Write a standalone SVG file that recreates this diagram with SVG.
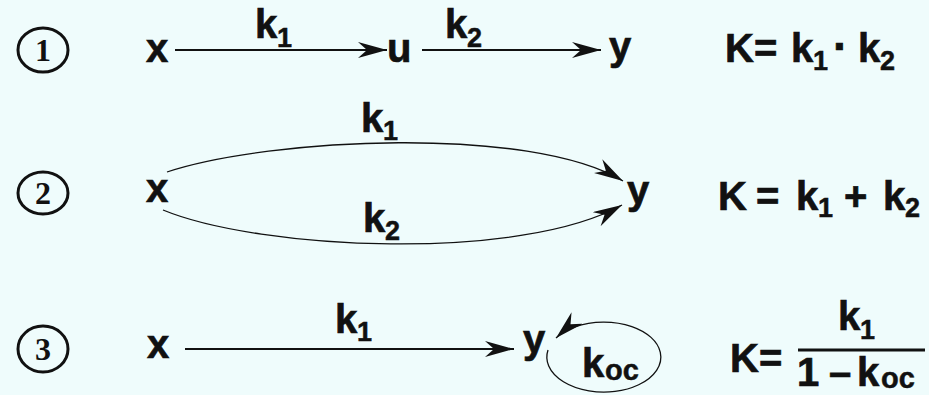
<svg xmlns="http://www.w3.org/2000/svg" width="929" height="395" viewBox="0 0 929 395">
<style>
.t{font-family:"Liberation Sans",Arial,sans-serif;font-weight:bold;font-size:40px;fill:#111;stroke:#111;stroke-width:0.7}
.s{font-family:"Liberation Sans",Arial,sans-serif;font-weight:bold;font-size:27px;fill:#111;stroke:#111;stroke-width:0.5}
.n{font-family:"Liberation Serif","Times New Roman",serif;font-weight:bold;font-size:32px;fill:#111;text-anchor:middle}
.ring{fill:none;stroke:#111;stroke-width:3}
.ln{fill:none;stroke:#111;stroke-width:1.8}
.cv{fill:none;stroke:#111;stroke-width:1.3}
</style>
<defs>
<marker id="ah" markerUnits="userSpaceOnUse" markerWidth="32" markerHeight="18" refX="29" refY="8" orient="auto" viewBox="0 0 32 18">
<path d="M0,0 L29,8 L0,16 L9,8 Z" fill="#111"/>
</marker>
</defs>
<rect width="929" height="395" fill="#effcfc"/>

<g id="num1"><ellipse class="ring" cx="43" cy="50" rx="25" ry="22"/><text class="n" x="43" y="61">1</text></g>
<g id="num2"><ellipse class="ring" cx="43" cy="193" rx="25" ry="21"/><text class="n" x="43" y="204">2</text></g>
<g id="num3"><ellipse class="ring" cx="43" cy="349" rx="25" ry="23"/><text class="n" x="43" y="360">3</text></g>

<g id="connectors">
<path class="ln" d="M175,50 H387" marker-end="url(#ah)"/>
<path class="ln" d="M422,50 H601" marker-end="url(#ah)"/>
<path class="cv" d="M167,172 C270,138 530,125 623,181" marker-end="url(#ah)"/>
<path class="cv" d="M163,210 C260,250 520,262 622,205" marker-end="url(#ah)"/>
<path class="ln" d="M185,349 H514" marker-end="url(#ah)"/>
<path class="cv" d="M548,350 A57,35 0 1 0 556,338" marker-end="url(#ah)"/>
</g>

<g id="labels">
<text class="t" x="255" y="38">k</text><text class="s" x="277" y="47">1</text>
<text class="t" x="445" y="38">k</text><text class="s" x="467" y="47">2</text>
<text class="t" x="361" y="132">k</text><text class="s" x="383" y="140">1</text>
<text class="t" x="363" y="232">k</text><text class="s" x="385" y="240">2</text>
<text class="t" x="335" y="333">k</text><text class="s" x="357" y="341">1</text>
<text class="t" x="582" y="377">k</text><text class="s" x="605" y="380" style="font-size:29px">oc</text>
</g>

<g id="x1"><text class="t" x="146" y="62">x</text></g>
<g id="u1"><text class="t" x="387" y="62">u</text></g>
<g id="y1"><text class="t" x="609" y="60">y</text></g>
<g id="f1">
<text class="t" x="725" y="62">K=</text>
<text class="t" x="791" y="62">k</text><text class="s" x="813" y="70">1</text>
<text class="t" x="833" y="62" style="font-size:46px">·</text>
<text class="t" x="858" y="62">k</text><text class="s" x="880" y="70">2</text>
</g>

<g id="x2"><text class="t" x="146" y="202">x</text></g>
<g id="y2"><text class="t" x="627" y="204">y</text></g>
<g id="f2">
<text class="t" x="718" y="210">K</text>
<text class="t" x="756" y="210">=</text>
<text class="t" x="796" y="210">k</text><text class="s" x="818" y="217">1</text>
<text class="t" x="844" y="210">+</text>
<text class="t" x="883" y="210">k</text><text class="s" x="905" y="217">2</text>
</g>

<g id="x3"><text class="t" x="147" y="358">x</text></g>
<g id="y3"><text class="t" x="523" y="353">y</text></g>
<g id="f3">
<text class="t" x="730" y="372">K=</text>
<text class="t" x="838" y="330">k</text><text class="s" x="860" y="339">1</text>
<line x1="798" y1="350" x2="925" y2="350" stroke="#111" stroke-width="3"/>
<text class="t" x="797" y="386">1</text>
<text class="t" x="829" y="386">–</text>
<text class="t" x="857" y="386">k</text><text class="s" x="881" y="388" style="font-size:29px">oc</text>
</g>
</svg>
